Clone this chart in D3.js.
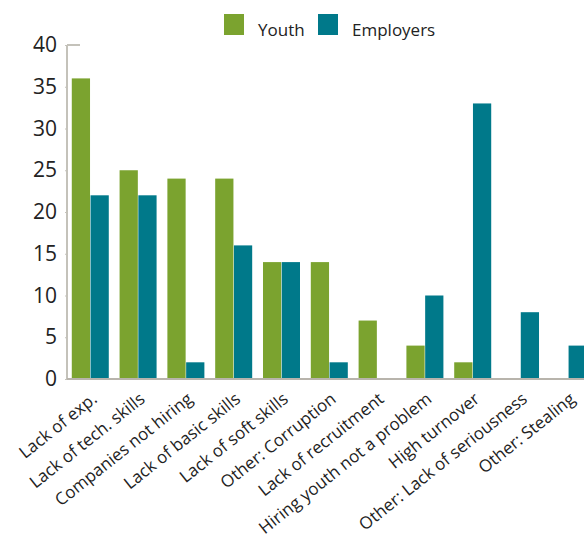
<!DOCTYPE html>
<html><head><meta charset="utf-8">
<script src="https://cdn.jsdelivr.net/npm/d3@7"></script>
<style>body{margin:0;background:#fff;overflow:hidden}svg{display:block}text{font-family:"Open Sans",sans-serif;fill:#222}</style>
</head><body>
<svg id="c" width="584" height="534"></svg>
<script>
const categories = ["Lack of exp.","Lack of tech. skills","Companies not hiring","Lack of basic skills","Lack of soft skills","Other: Corruption","Lack of recruitment","Hiring youth not a problem","High turnover","Other: Lack of seriousness","Other: Stealing"];
const youth = [36,25,24,24,14,14,7,4,2,0,0];
const employers = [22,22,2,16,14,2,0,10,33,8,4];
const series = [{name:"Youth", values:youth, color:"#7ba32f"},{name:"Employers", values:employers, color:"#00798a"}];
const yTicks = [0,5,10,15,20,25,30,35,40];

(function(){
const svg = d3.select("#c");
const left = 67, plotTop = 45, bottom = 379;
const x = d3.scaleBand().domain(categories).range([left, 591.6]).paddingInner(0.226).paddingOuter(0.1);
const x1 = d3.scaleBand().domain(series.map(s=>s.name)).range([0, x.bandwidth()]).paddingInner(0.027);
const y = d3.scaleLinear().domain([0,40]).range([bottom, plotTop]);

series.forEach(s=>{
  svg.append("g").selectAll("rect").data(categories).join("rect")
    .attr("x", c=>x(c)+x1(s.name))
    .attr("width", x1.bandwidth())
    .attr("y", (c,i)=>y(s.values[i]))
    .attr("height", (c,i)=>bottom - y(s.values[i]))
    .attr("fill", s.color);
});

const ya = svg.append("g").attr("transform",`translate(${left},0)`)
  .call(d3.axisLeft(y).tickValues(yTicks).tickSize(2).tickPadding(8));
ya.select(".domain").attr("stroke","#c4c2ba").attr("stroke-width",2).attr("d",`M0,${plotTop}V${bottom}`);
ya.selectAll(".tick line").attr("stroke","#c4c2ba");
ya.selectAll(".tick text").attr("font-size",21).style("font-family","'Open Sans',sans-serif").attr("fill","#222");
svg.append("line").attr("x1",left).attr("x2",left+13).attr("y1",y(40)).attr("y2",y(40)).attr("stroke","#c4c2ba").attr("stroke-width",2);

svg.append("line").attr("x1",left).attr("x2",584).attr("y1",bottom).attr("y2",bottom).attr("stroke","#b8b4ac").attr("stroke-width",2);

svg.append("g").selectAll("text").data(categories).join("text")
  .attr("transform", c=>`translate(${x(c)+x.bandwidth()/2},${bottom+12}) rotate(-38.5)`)
  .attr("text-anchor","end").attr("dy","0.75em").attr("font-size",17).text(c=>c);

const lg = [{n:"Youth",c:"#7ba32f",x:224},{n:"Employers",c:"#00798a",x:318}];
lg.forEach(l=>{
  svg.append("rect").attr("x",l.x).attr("y",14).attr("width",20).attr("height",21).attr("fill",l.c);
  svg.append("text").attr("x",l.x+34).attr("y",36).attr("font-size",17).text(l.n);
});
})();
</script>
</body></html>
